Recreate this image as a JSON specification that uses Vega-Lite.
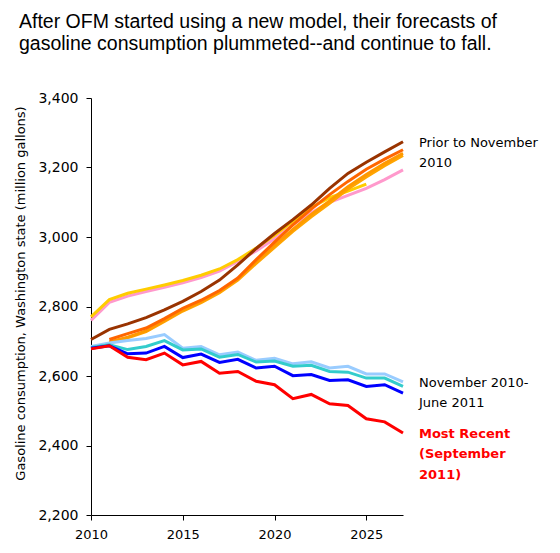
{
  "$schema": "https://vega.github.io/schema/vega-lite/v6.json",
  "width": 312,
  "height": 417,
  "autosize": {"type": "none"},
  "padding": {"left": 91, "top": 98, "right": 157, "bottom": 38},
  "title": {
    "text": ["After OFM started using a new model, their forecasts of", "gasoline consumption plummeted--and continue to fall."],
    "anchor": "start",
    "frame": "group",
    "dx": -72,
    "offset": 37,
    "font": "Liberation Sans",
    "fontSize": 19.5,
    "fontWeight": "normal",
    "lineHeight": 21.5,
    "color": "black"
  },
  "config": {
    "view": {"stroke": null},
    "axis": {
      "domainColor": "black",
      "tickColor": "black",
      "labelColor": "black",
      "titleColor": "black",
      "labelFont": "DejaVu Sans",
      "titleFont": "DejaVu Sans",
      "labelFontSize": 13,
      "labelFlush": false,
      "grid": false,
      "tickSize": 5
    }
  },
  "layer": [
    {
      "data": {
        "values": [
          {"series": "Prior 6", "year": 2010, "value": 2760}, {"series": "Prior 6", "year": 2011, "value": 2812}, {"series": "Prior 6", "year": 2012, "value": 2830}, {"series": "Prior 6", "year": 2013, "value": 2843}, {"series": "Prior 6", "year": 2014, "value": 2855}, {"series": "Prior 6", "year": 2015, "value": 2868}, {"series": "Prior 6", "year": 2016, "value": 2883}, {"series": "Prior 6", "year": 2017, "value": 2902}, {"series": "Prior 6", "year": 2018, "value": 2930}, {"series": "Prior 6", "year": 2019, "value": 2960}, {"series": "Prior 6", "year": 2020, "value": 2995}, {"series": "Prior 6", "year": 2021, "value": 3035}, {"series": "Prior 6", "year": 2022, "value": 3070}, {"series": "Prior 6", "year": 2023, "value": 3100}, {"series": "Prior 6", "year": 2024, "value": 3120}, {"series": "Prior 6", "year": 2025, "value": 3140}, {"series": "Prior 6", "year": 2026, "value": 3165}, {"series": "Prior 6", "year": 2027, "value": 3193},
          {"series": "Prior 5", "year": 2010, "value": 2770}, {"series": "Prior 5", "year": 2011, "value": 2820}, {"series": "Prior 5", "year": 2012, "value": 2838}, {"series": "Prior 5", "year": 2013, "value": 2850}, {"series": "Prior 5", "year": 2014, "value": 2862}, {"series": "Prior 5", "year": 2015, "value": 2875}, {"series": "Prior 5", "year": 2016, "value": 2890}, {"series": "Prior 5", "year": 2017, "value": 2908}, {"series": "Prior 5", "year": 2018, "value": 2935}, {"series": "Prior 5", "year": 2019, "value": 2968}, {"series": "Prior 5", "year": 2020, "value": 3005}, {"series": "Prior 5", "year": 2021, "value": 3045}, {"series": "Prior 5", "year": 2022, "value": 3085}, {"series": "Prior 5", "year": 2023, "value": 3113}, {"series": "Prior 5", "year": 2024, "value": 3132}, {"series": "Prior 5", "year": 2025, "value": 3152},
          {"series": "Prior 4", "year": 2011, "value": 2696}, {"series": "Prior 4", "year": 2012, "value": 2710}, {"series": "Prior 4", "year": 2013, "value": 2728}, {"series": "Prior 4", "year": 2014, "value": 2757}, {"series": "Prior 4", "year": 2015, "value": 2787}, {"series": "Prior 4", "year": 2016, "value": 2811}, {"series": "Prior 4", "year": 2017, "value": 2840}, {"series": "Prior 4", "year": 2018, "value": 2876}, {"series": "Prior 4", "year": 2019, "value": 2924}, {"series": "Prior 4", "year": 2020, "value": 2970}, {"series": "Prior 4", "year": 2021, "value": 3016}, {"series": "Prior 4", "year": 2022, "value": 3058}, {"series": "Prior 4", "year": 2023, "value": 3097}, {"series": "Prior 4", "year": 2024, "value": 3138}, {"series": "Prior 4", "year": 2025, "value": 3173}, {"series": "Prior 4", "year": 2026, "value": 3205}, {"series": "Prior 4", "year": 2027, "value": 3235},
          {"series": "Prior 3", "year": 2011, "value": 2698}, {"series": "Prior 3", "year": 2012, "value": 2712}, {"series": "Prior 3", "year": 2013, "value": 2730}, {"series": "Prior 3", "year": 2014, "value": 2760}, {"series": "Prior 3", "year": 2015, "value": 2790}, {"series": "Prior 3", "year": 2016, "value": 2814}, {"series": "Prior 3", "year": 2017, "value": 2843}, {"series": "Prior 3", "year": 2018, "value": 2880}, {"series": "Prior 3", "year": 2019, "value": 2930}, {"series": "Prior 3", "year": 2020, "value": 2976}, {"series": "Prior 3", "year": 2021, "value": 3022}, {"series": "Prior 3", "year": 2022, "value": 3065}, {"series": "Prior 3", "year": 2023, "value": 3104}, {"series": "Prior 3", "year": 2024, "value": 3145}, {"series": "Prior 3", "year": 2025, "value": 3180}, {"series": "Prior 3", "year": 2026, "value": 3212}, {"series": "Prior 3", "year": 2027, "value": 3241},
          {"series": "Prior 2", "year": 2011, "value": 2705}, {"series": "Prior 2", "year": 2012, "value": 2722}, {"series": "Prior 2", "year": 2013, "value": 2738}, {"series": "Prior 2", "year": 2014, "value": 2765}, {"series": "Prior 2", "year": 2015, "value": 2795}, {"series": "Prior 2", "year": 2016, "value": 2818}, {"series": "Prior 2", "year": 2017, "value": 2846}, {"series": "Prior 2", "year": 2018, "value": 2882}, {"series": "Prior 2", "year": 2019, "value": 2935}, {"series": "Prior 2", "year": 2020, "value": 2985}, {"series": "Prior 2", "year": 2021, "value": 3035}, {"series": "Prior 2", "year": 2022, "value": 3080}, {"series": "Prior 2", "year": 2023, "value": 3122}, {"series": "Prior 2", "year": 2024, "value": 3160}, {"series": "Prior 2", "year": 2025, "value": 3195}, {"series": "Prior 2", "year": 2026, "value": 3224}, {"series": "Prior 2", "year": 2027, "value": 3251},
          {"series": "Prior 1", "year": 2010, "value": 2705}, {"series": "Prior 1", "year": 2011, "value": 2734}, {"series": "Prior 1", "year": 2012, "value": 2750}, {"series": "Prior 1", "year": 2013, "value": 2768}, {"series": "Prior 1", "year": 2014, "value": 2790}, {"series": "Prior 1", "year": 2015, "value": 2815}, {"series": "Prior 1", "year": 2016, "value": 2843}, {"series": "Prior 1", "year": 2017, "value": 2876}, {"series": "Prior 1", "year": 2018, "value": 2920}, {"series": "Prior 1", "year": 2019, "value": 2967}, {"series": "Prior 1", "year": 2020, "value": 3010}, {"series": "Prior 1", "year": 2021, "value": 3050}, {"series": "Prior 1", "year": 2022, "value": 3092}, {"series": "Prior 1", "year": 2023, "value": 3140}, {"series": "Prior 1", "year": 2024, "value": 3183}, {"series": "Prior 1", "year": 2025, "value": 3215}, {"series": "Prior 1", "year": 2026, "value": 3245}, {"series": "Prior 1", "year": 2027, "value": 3274},
          {"series": "Nov-Jun 1", "year": 2010, "value": 2685}, {"series": "Nov-Jun 1", "year": 2011, "value": 2695}, {"series": "Nov-Jun 1", "year": 2012, "value": 2702}, {"series": "Nov-Jun 1", "year": 2013, "value": 2708}, {"series": "Nov-Jun 1", "year": 2014, "value": 2719}, {"series": "Nov-Jun 1", "year": 2015, "value": 2680}, {"series": "Nov-Jun 1", "year": 2016, "value": 2685}, {"series": "Nov-Jun 1", "year": 2017, "value": 2661}, {"series": "Nov-Jun 1", "year": 2018, "value": 2669}, {"series": "Nov-Jun 1", "year": 2019, "value": 2645}, {"series": "Nov-Jun 1", "year": 2020, "value": 2651}, {"series": "Nov-Jun 1", "year": 2021, "value": 2635}, {"series": "Nov-Jun 1", "year": 2022, "value": 2641}, {"series": "Nov-Jun 1", "year": 2023, "value": 2623}, {"series": "Nov-Jun 1", "year": 2024, "value": 2628}, {"series": "Nov-Jun 1", "year": 2025, "value": 2606}, {"series": "Nov-Jun 1", "year": 2026, "value": 2606}, {"series": "Nov-Jun 1", "year": 2027, "value": 2583},
          {"series": "Nov-Jun 2", "year": 2010, "value": 2682}, {"series": "Nov-Jun 2", "year": 2011, "value": 2690}, {"series": "Nov-Jun 2", "year": 2012, "value": 2676}, {"series": "Nov-Jun 2", "year": 2013, "value": 2685}, {"series": "Nov-Jun 2", "year": 2014, "value": 2702}, {"series": "Nov-Jun 2", "year": 2015, "value": 2675}, {"series": "Nov-Jun 2", "year": 2016, "value": 2678}, {"series": "Nov-Jun 2", "year": 2017, "value": 2654}, {"series": "Nov-Jun 2", "year": 2018, "value": 2662}, {"series": "Nov-Jun 2", "year": 2019, "value": 2640}, {"series": "Nov-Jun 2", "year": 2020, "value": 2643}, {"series": "Nov-Jun 2", "year": 2021, "value": 2628}, {"series": "Nov-Jun 2", "year": 2022, "value": 2631}, {"series": "Nov-Jun 2", "year": 2023, "value": 2613}, {"series": "Nov-Jun 2", "year": 2024, "value": 2611}, {"series": "Nov-Jun 2", "year": 2025, "value": 2594}, {"series": "Nov-Jun 2", "year": 2026, "value": 2594}, {"series": "Nov-Jun 2", "year": 2027, "value": 2570},
          {"series": "Nov-Jun 3", "year": 2010, "value": 2680}, {"series": "Nov-Jun 3", "year": 2011, "value": 2687}, {"series": "Nov-Jun 3", "year": 2012, "value": 2664}, {"series": "Nov-Jun 3", "year": 2013, "value": 2666}, {"series": "Nov-Jun 3", "year": 2014, "value": 2685}, {"series": "Nov-Jun 3", "year": 2015, "value": 2653}, {"series": "Nov-Jun 3", "year": 2016, "value": 2663}, {"series": "Nov-Jun 3", "year": 2017, "value": 2639}, {"series": "Nov-Jun 3", "year": 2018, "value": 2648}, {"series": "Nov-Jun 3", "year": 2019, "value": 2623}, {"series": "Nov-Jun 3", "year": 2020, "value": 2628}, {"series": "Nov-Jun 3", "year": 2021, "value": 2601}, {"series": "Nov-Jun 3", "year": 2022, "value": 2604}, {"series": "Nov-Jun 3", "year": 2023, "value": 2587}, {"series": "Nov-Jun 3", "year": 2024, "value": 2589}, {"series": "Nov-Jun 3", "year": 2025, "value": 2570}, {"series": "Nov-Jun 3", "year": 2026, "value": 2575}, {"series": "Nov-Jun 3", "year": 2027, "value": 2551},
          {"series": "Sep 2011", "year": 2010, "value": 2678}, {"series": "Sep 2011", "year": 2011, "value": 2687}, {"series": "Sep 2011", "year": 2012, "value": 2654}, {"series": "Sep 2011", "year": 2013, "value": 2647}, {"series": "Sep 2011", "year": 2014, "value": 2666}, {"series": "Sep 2011", "year": 2015, "value": 2632}, {"series": "Sep 2011", "year": 2016, "value": 2642}, {"series": "Sep 2011", "year": 2017, "value": 2608}, {"series": "Sep 2011", "year": 2018, "value": 2613}, {"series": "Sep 2011", "year": 2019, "value": 2585}, {"series": "Sep 2011", "year": 2020, "value": 2575}, {"series": "Sep 2011", "year": 2021, "value": 2535}, {"series": "Sep 2011", "year": 2022, "value": 2547}, {"series": "Sep 2011", "year": 2023, "value": 2520}, {"series": "Sep 2011", "year": 2024, "value": 2515}, {"series": "Sep 2011", "year": 2025, "value": 2477}, {"series": "Sep 2011", "year": 2026, "value": 2468}, {"series": "Sep 2011", "year": 2027, "value": 2436}
        ]
      },
      "mark": {"type": "line", "strokeWidth": 3},
      "encoding": {
        "x": {
          "field": "year",
          "type": "quantitative",
          "scale": {"domain": [2010, 2027], "nice": false, "zero": false},
          "axis": {"values": [2010, 2015, 2020, 2025], "format": "d", "title": null, "labelPadding": 8}
        },
        "y": {
          "field": "value",
          "type": "quantitative",
          "scale": {"domain": [2200, 3400], "nice": false, "zero": false},
          "axis": {
            "values": [2200, 2400, 2600, 2800, 3000, 3200, 3400],
            "format": ",d",
            "labelFontSize": 14,
            "labelPadding": 8,
            "title": "Gasoline consumption, Washington state (million gallons)",
            "titleFontSize": 13,
            "titleFontWeight": "normal",
            "titlePadding": 10,
            "titleY": 195
          }
        },
        "color": {
          "field": "series",
          "type": "nominal",
          "legend": null,
          "scale": {
            "domain": ["Prior 6", "Prior 5", "Prior 4", "Prior 3", "Prior 2", "Prior 1", "Nov-Jun 1", "Nov-Jun 2", "Nov-Jun 3", "Sep 2011"],
            "range": ["#FF99CC", "#FFCC00", "#FFA500", "#FF9900", "#FF6600", "#993300", "#99CCFF", "#33CCCC", "#0000FF", "#FF0000"]
          }
        }
      }
    },
    {
      "data": {
        "values": [
          {"label": "Prior to November\n2010", "year": 2027, "value": 3270},
          {"label": "November 2010-\nJune 2011", "year": 2027, "value": 2581}
        ]
      },
      "mark": {"type": "text", "align": "left", "baseline": "middle", "dx": 16, "font": "DejaVu Sans", "fontSize": 13, "lineBreak": "\n", "lineHeight": 20, "color": "black"},
      "encoding": {
        "x": {"field": "year", "type": "quantitative"},
        "y": {"field": "value", "type": "quantitative"},
        "text": {"field": "label"}
      }
    },
    {
      "data": {
        "values": [
          {"label": "Most Recent\n(September\n2011)", "year": 2027, "value": 2434}
        ]
      },
      "mark": {"type": "text", "align": "left", "baseline": "middle", "dx": 16, "font": "DejaVu Sans", "fontSize": 13, "fontWeight": "bold", "lineBreak": "\n", "lineHeight": 20.5, "color": "#FF0000"},
      "encoding": {
        "x": {"field": "year", "type": "quantitative"},
        "y": {"field": "value", "type": "quantitative"},
        "text": {"field": "label"}
      }
    }
  ]
}
